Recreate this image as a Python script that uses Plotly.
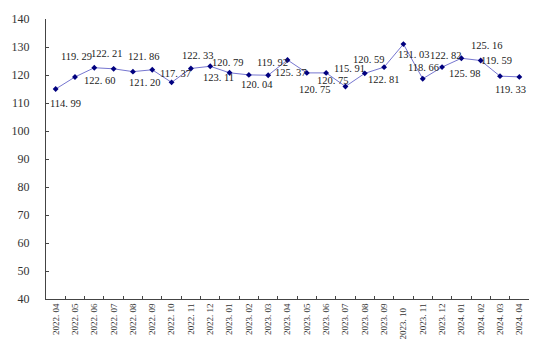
import plotly.graph_objects as go

months = ["2022.04", "2022.05", "2022.06", "2022.07", "2022.08", "2022.09", "2022.10",
          "2022.11", "2022.12", "2023.01", "2023.02", "2023.03", "2023.04", "2023.05",
          "2023.06", "2023.07", "2023.08", "2023.09", "2023.10", "2023.11", "2023.12",
          "2024.01", "2024.02", "2024.03", "2024.04"]
values = [114.99, 119.29, 122.60, 122.21, 121.20, 121.86, 117.37, 122.33, 123.11,
          120.79, 120.04, 119.92, 125.37, 120.75, 120.75, 115.91, 120.59, 122.81,
          131.03, 118.66, 122.82, 125.98, 125.16, 119.59, 119.33]
y_ticks = [40, 50, 60, 70, 80, 90, 100, 110, 120, 130, 140]

# label pixel offsets (dx right, dy down) relative to each point
label_dx = [10, 1.5, 5.6, -6.7, 12.5, -8.5, 3.6, 6.6, 8, -1.4, 8, 4.7, 3.5, 8.5, 6.6,
            4, 4.6, -0.6, 10.7, 1.2, 3.8, 3.3, 5.9, -3.9, -9]
label_dy = [14, -20.6, 12.4, -15.5, 11, -13, -8.8, -12.7, 11.2, -10.7, 10, -12.5, 12.8,
            17, 7.6, -18, -13.6, 12, 9.9, -11, -11.3, 15.6, -15.4, -15.7, 12.9]

def fmt_tick(m):
    a, b = m.split(".")
    s = a + ". " + b
    if m == "2023.10":
        s = s + "\u00a0\u00a0"
    return s

def fmt_val(v):
    a, b = f"{v:.2f}".split(".")
    return a + ". " + b

FONT = "Liberation Serif"

fig = go.Figure()
fig.add_trace(go.Scatter(
    x=months, y=values, mode="lines+markers",
    line=dict(color="#7676d0", width=1),
    marker=dict(symbol="diamond", size=4.5, color="#00007f"),
    hoverinfo="skip", showlegend=False,
))

for i, (v, dx, dy) in enumerate(zip(values, label_dx, label_dy)):
    fig.add_annotation(x=i, y=v, xref="x", yref="y", text=fmt_val(v),
                       showarrow=False, xshift=dx, yshift=-dy,
                       font=dict(family=FONT, size=10.5, color="#222"),
                       xanchor="center", yanchor="middle")

fig.update_layout(
    width=542, height=352,
    margin=dict(l=43, r=12.5, t=13, b=48),
    paper_bgcolor="white", plot_bgcolor="white",
    font=dict(family=FONT, color="#222"),
)
fig.update_xaxes(
    type="category", range=[-0.5, len(months) - 0.5],
    tickmode="array", tickvals=months, ticktext=[fmt_tick(m) for m in months],
    tickangle=-90, tickson="boundaries", ticks="inside", ticklen=3,
    tickcolor="#444", showline=True, linecolor="#444", linewidth=1,
    showgrid=False, zeroline=False,
    tickfont=dict(family=FONT, size=9, color="#333"),
)
fig.update_yaxes(
    range=[40, 140], tickmode="array", tickvals=y_ticks,
    ticks="inside", ticklen=3, tickcolor="#444",
    showline=True, linecolor="#444", linewidth=1,
    showgrid=False, zeroline=False, ticklabelstandoff=13,
    tickfont=dict(family=FONT, size=12, color="#333"),
)

fig.write_html("out.html")
